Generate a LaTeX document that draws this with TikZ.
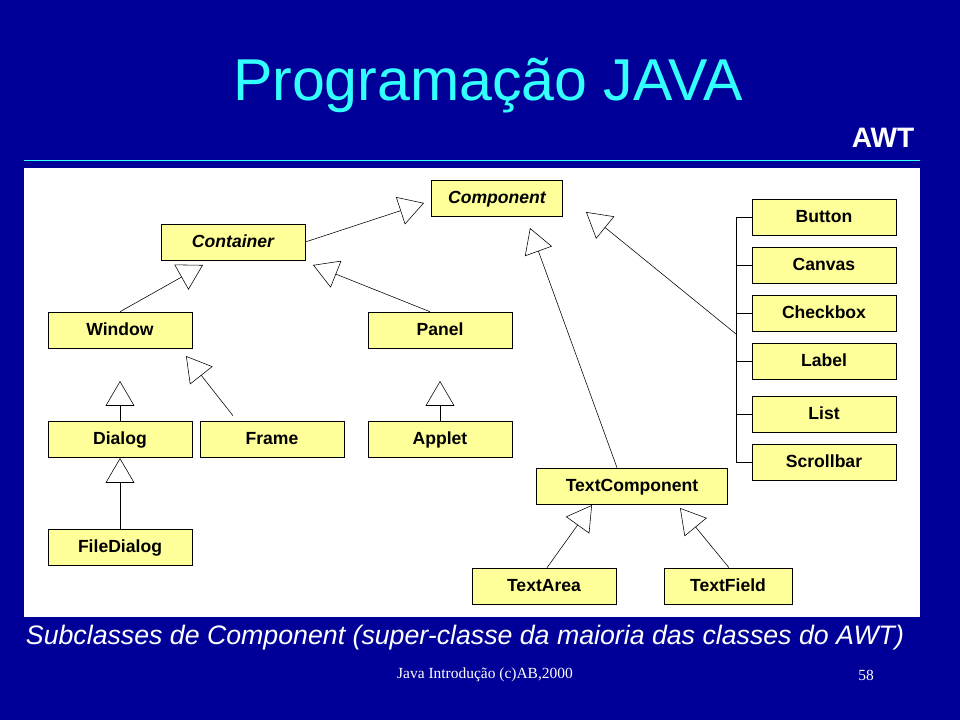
\documentclass[tikz,border=0pt]{standalone}
\usepackage{fontspec}
\setmainfont{Liberation Sans}
\newfontfamily\footfont{Liberation Serif}
\usetikzlibrary{arrows.meta,positioning}
\definecolor{slidebg}{HTML}{000099}
\definecolor{titlecyan}{HTML}{33FFFF}
\definecolor{boxfill}{HTML}{FFFF99}
\tikzset{
  cls/.style={
    rectangle,
    fill=boxfill,
    draw=black, thin,
    minimum width=3.6cm,
    minimum height=0.9cm,
    inner sep=0pt,
    text height=1.4ex, text depth=0pt,
    font=\fontsize{12.5}{14}\selectfont\bfseries,
    text centered},
  abstr/.style={cls, font=\fontsize{12.5}{14}\selectfont\bfseries\itshape},
  inh/.style={draw, thin, -{Triangle[open, length=0.62cm, width=0.72cm]}},
  stub/.style={draw, thin}
}
\begin{document}
\begin{tikzpicture}[x=0.025cm, y=-0.025cm]
    % slide background
    \fill[slidebg] (0,0) rectangle (960,720);
    \useasboundingbox (0,0) rectangle (960,720);
    \fill[white] (24,168) rectangle (920,617);
    \draw[titlecyan, thin] (24,160) -- (920,160);

    \node[text=titlecyan, font=\fontsize{42}{46}\selectfont] (title) at (488,86) {Programação JAVA};
    \node[text=white, font=\fontsize{20}{24}\selectfont\bfseries] (awt) at (883,138) {AWT};

    % classes
    \node[abstr, minimum width=3.28cm] (component) at (497,198) {Component};
    \node[abstr] (container) at (233,242) {Container};
    \node[cls] (window) at (120,330) {Window};
    \node[cls] (panel) at (440,330) {Panel};
    \node[cls] (dialog) at (120,439) {Dialog};
    \node[cls] (frame) at (272,439) {Frame};
    \node[cls] (applet) at (440,439) {Applet};
    \node[cls] (filedialog) at (120,547) {FileDialog};
    \node[cls, minimum width=4.78cm] (textcomp) at (632,486) {TextComponent};
    \node[cls] (textarea) at (544,586) {TextArea};
    \node[cls, minimum width=3.2cm] (textfield) at (728,586) {TextField};

    \node[cls] (button) at (824,217) {Button};
    \node[cls] (canvas) at (824,265) {Canvas};
    \node[cls] (checkbox) at (824,313) {Checkbox};
    \node[cls] (label) at (824,361) {Label};
    \node[cls] (list) at (824,414) {List};
    \node[cls] (scrollbar) at (824,462) {Scrollbar};

    % triangle tips
    \coordinate (tComponentL) at (424,203);
    \coordinate (tComponentM) at (530,228);
    \coordinate (tComponentR) at (586,212);
    \coordinate (tContainerL) at (203,265);
    \coordinate (tContainerR) at (313,265);
    \coordinate (tWindowA) at (120,381);
    \coordinate (tWindowB) at (186,356);
    \coordinate (tPanel) at (440,381);
    \coordinate (tDialog) at (120,458);
    \coordinate (tTextL) at (592,505);
    \coordinate (tTextR) at (680,508);
    \coordinate (bTop) at (736,217);
    \coordinate (bBot) at (736,462);
    \coordinate (bMid) at (736,334);

    % bracket of the right column
    \draw[stub] (bTop) -- (bBot);
    \foreach \n in {button,canvas,checkbox,label,list,scrollbar}
        \draw[stub] (bTop |- \n.west) -- (\n.west);

    % inheritance
    \draw[inh] (container.east) -- (tComponentL);
    \draw[inh] (textcomp.north) ++(-15,0) -- (tComponentM);
    \draw[inh] (bMid) -- (tComponentR);
    \draw[inh] (window.north) -- (tContainerL);
    \draw[inh] (panel.north) ++(-10,0) -- (tContainerR);
    \draw[inh] (dialog.north) -- (tWindowA);
    \draw[inh] (frame.north) ++(-39,-5) -- (tWindowB);
    \draw[inh] (applet.north) -- (tPanel);
    \draw[inh] (filedialog.north) -- (tDialog);
    \draw[inh] (textarea.north) ++(3,0) -- (tTextL);
    \draw[inh] (textfield.north) ++(1,0) -- (tTextR);

    % captions
    \node[text=white, font=\fontsize{19}{22}\selectfont\itshape] (caption) at (465,638)
        {Subclasses de Component (super-classe da maioria das classes do AWT)};
    \node[text=white, font=\footfont\fontsize{11}{13}\selectfont] (foot) at (485,675) {Java Introdução (c)AB,2000};
    \node[text=white, font=\footfont\fontsize{11}{13}\selectfont] (page) at (866,675) {58};
\end{tikzpicture}
\end{document}
